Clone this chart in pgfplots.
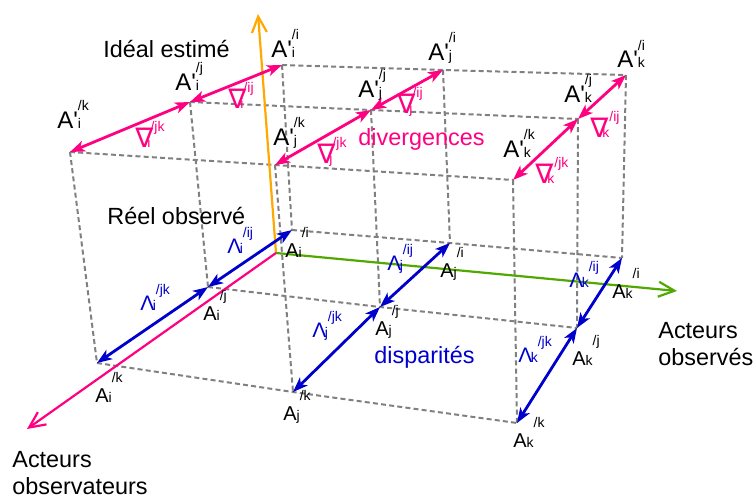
\documentclass[border=0pt]{standalone}
\usepackage{fontspec}
\setmainfont{Liberation Sans}
\newfontfamily\dvs{DejaVu Sans}
\usepackage{pgfplots}
\pgfplotsset{compat=1.18}
\usetikzlibrary{arrows.meta}
\definecolor{pk}{RGB}{255,0,128}
\definecolor{bl}{RGB}{0,0,204}
\definecolor{og}{RGB}{255,168,0}
\definecolor{gr}{RGB}{80,168,0}
\definecolor{gy}{RGB}{128,128,128}
\newcommand{\sz}[1]{\fontsize{#1}{#1}\selectfont}
% top labels: A' with stacked sub/sup
\newcommand{\TL}[2]{{\sz{12}A\textquotesingle}\rlap{\sz{7}#1}\raisebox{9pt}{\sz{7}#2}}
% bottom labels
\newcommand{\BL}[2]{{\sz{10}A}{\sz{7}#1}\raisebox{10pt}{\sz{7}#2}}
% nabla labels
\newcommand{\NL}[2]{{\sz{13.5}\dvs ∇}\kern-3pt{\sz{7}#1}\raisebox{8pt}{\sz{7}#2}}
% lambda labels
\newcommand{\LL}[2]{{\sz{10.5}Λ}\kern-0.8pt{\sz{7}#1}\raisebox{8pt}{\sz{7}#2}}
\begin{document}
\begin{tikzpicture}
\begin{axis}[
  scale only axis, width=377.5pt, height=249pt,
  xmin=0, xmax=755, ymin=0, ymax=498, y dir=reverse,
  hide axis, clip=false,
  dsh/.style={gy, line width=1pt, dash pattern=on 2.5pt off 1.6pt},
  pkar/.style={pk, line width=1.4pt, {Stealth[length=7.5pt,width=5.5pt,inset=2pt]}-{Stealth[length=7.5pt,width=5.5pt,inset=2pt]}},
  blar/.style={bl, line width=1.4pt, {Stealth[length=7.5pt,width=5.5pt,inset=2pt]}-{Stealth[length=7.5pt,width=5.5pt,inset=2pt]}},
  axar/.style={line width=1.1pt, -{Straight Barb[length=8pt,width=7.5pt]}},
]
% invisible frame so that the picture keeps the full extent
\addplot[draw=none] coordinates {(0,0) (755,498)};
% top grid rows (ideal)
\addplot[dsh] coordinates {(282,65) (443,70) (626,75)};
\addplot[dsh] coordinates {(190,102) (371,110) (578,119)};
\addplot[dsh] coordinates {(70,152) (275,165) (513,180)};
% bottom grid rows (real)
\addplot[dsh] coordinates {(292,230) (450,243) (622,258)};
\addplot[dsh] coordinates {(208,287) (380,307) (577,328)};
\addplot[dsh] coordinates {(97,363) (293,392) (517,423)};
% verticals
\addplot[dsh] coordinates {(282,65) (292,230)};
\addplot[dsh] coordinates {(190,102) (208,287)};
\addplot[dsh] coordinates {(70,152) (97,363)};
\addplot[dsh] coordinates {(443,70) (450,243)};
\addplot[dsh] coordinates {(371,110) (380,307)};
\addplot[dsh] coordinates {(275,165) (293,392)};
\addplot[dsh] coordinates {(626,75) (622,258)};
\addplot[dsh] coordinates {(578,119) (577,328)};
\addplot[dsh] coordinates {(513,180) (517,423)};
% axes
\addplot[axar, og] coordinates {(276,253) (258,14)};
\addplot[axar, gr] coordinates {(276,253) (677,291)};
\addplot[axar, pk] coordinates {(276,253) (27,429)};
% divergences (pink)
\addplot[pkar] coordinates {(282,65) (190,102)};
\addplot[pkar] coordinates {(190,102) (70,152)};
\addplot[pkar] coordinates {(443,70) (371,110)};
\addplot[pkar] coordinates {(371,110) (275,165)};
\addplot[pkar] coordinates {(626,75) (578,119)};
\addplot[pkar] coordinates {(578,119) (513,180)};
% disparities (blue)
\addplot[blar] coordinates {(292,230) (208,287)};
\addplot[blar] coordinates {(208,287) (97,363)};
\addplot[blar] coordinates {(450,243) (380,307)};
\addplot[blar] coordinates {(380,307) (293,392)};
\addplot[blar] coordinates {(622,258) (577,328)};
\addplot[blar] coordinates {(577,328) (517,423)};
% texts
\node[anchor=base west, inner sep=0pt] at (axis cs:103,57) {\sz{11.7}Idéal estimé};
\node[anchor=base west, inner sep=0pt] at (axis cs:107,224) {\sz{11.7}Réel observé};
\node[anchor=base west, inner sep=0pt, text=pk] at (axis cs:358,145) {\sz{11.7}divergences};
\node[anchor=base west, inner sep=0pt, text=bl] at (axis cs:374,363) {\sz{11.7}disparités};
\node[anchor=base west, inner sep=0pt] at (axis cs:658,338) {\sz{11.7}Acteurs};
\node[anchor=base west, inner sep=0pt] at (axis cs:658,365) {\sz{11.7}observés};
\node[anchor=base west, inner sep=0pt] at (axis cs:12,467) {\sz{11.7}Acteurs};
\node[anchor=base west, inner sep=0pt] at (axis cs:12,494) {\sz{11.7}observateurs};
% top point labels
\node[anchor=base west, inner sep=0pt] at (axis cs:271,57) {\TL{i}{/i}};
\node[anchor=base west, inner sep=0pt] at (axis cs:175,90) {\TL{i}{/j}};
\node[anchor=base west, inner sep=0pt] at (axis cs:57,128) {\TL{i}{/k}};
\node[anchor=base west, inner sep=0pt] at (axis cs:428,60) {\TL{j}{/i}};
\node[anchor=base west, inner sep=0pt] at (axis cs:358,97) {\TL{j}{/j}};
\node[anchor=base west, inner sep=0pt] at (axis cs:273,145) {\TL{j}{/k}};
\node[anchor=base west, inner sep=0pt] at (axis cs:617,68) {\TL{k}{/i}};
\node[anchor=base west, inner sep=0pt] at (axis cs:564,102) {\TL{k}{/j}};
\node[anchor=base west, inner sep=0pt] at (axis cs:503,157) {\TL{k}{/k}};
% bottom point labels
\node[anchor=base west, inner sep=0pt] at (axis cs:285,257) {\BL{i}{/i}};
\node[anchor=base west, inner sep=0pt] at (axis cs:203,320) {\BL{i}{/j}};
\node[anchor=base west, inner sep=0pt] at (axis cs:95,402) {\BL{i}{/k}};
\node[anchor=base west, inner sep=0pt] at (axis cs:440,277) {\BL{j}{/i}};
\node[anchor=base west, inner sep=0pt] at (axis cs:375,335) {\BL{j}{/j}};
\node[anchor=base west, inner sep=0pt] at (axis cs:283,420) {\BL{j}{/k}};
\node[anchor=base west, inner sep=0pt] at (axis cs:612,298) {\BL{k}{/i}};
\node[anchor=base west, inner sep=0pt] at (axis cs:572,365) {\BL{k}{/j}};
\node[anchor=base west, inner sep=0pt] at (axis cs:513,447) {\BL{k}{/k}};
% nabla labels
\node[anchor=base west, inner sep=0pt, text=pk] at (axis cs:228,108) {\NL{i}{/ij}};
\node[anchor=base west, inner sep=0pt, text=pk] at (axis cs:135,147) {\NL{i}{/jk}};
\node[anchor=base west, inner sep=0pt, text=pk] at (axis cs:397,113) {\NL{j}{/ij}};
\node[anchor=base west, inner sep=0pt, text=pk] at (axis cs:317,163) {\NL{j}{/jk}};
\node[anchor=base west, inner sep=0pt, text=pk] at (axis cs:590,137) {\NL{k}{/ij}};
\node[anchor=base west, inner sep=0pt, text=pk] at (axis cs:535,183) {\NL{k}{/jk}};
% lambda labels
\node[anchor=base west, inner sep=0pt, text=bl] at (axis cs:227,253) {\LL{i}{/ij}};
\node[anchor=base west, inner sep=0pt, text=bl] at (axis cs:140,310) {\LL{i}{/jk}};
\node[anchor=base west, inner sep=0pt, text=bl] at (axis cs:387,270) {\LL{j}{/ij}};
\node[anchor=base west, inner sep=0pt, text=bl] at (axis cs:312,337) {\LL{j}{/jk}};
\node[anchor=base west, inner sep=0pt, text=bl] at (axis cs:569,287) {\LL{k}{/ij}};
\node[anchor=base west, inner sep=0pt, text=bl] at (axis cs:518,362) {\LL{k}{/jk}};
\end{axis}
\end{tikzpicture}
\end{document}
